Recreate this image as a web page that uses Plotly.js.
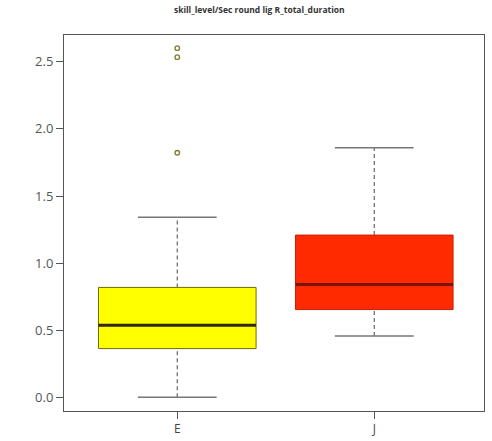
<!DOCTYPE html>
<html>
<head>
<meta charset="utf-8">
<script src="https://cdn.plot.ly/plotly-3.0.1.min.js"></script>
<style>
  html, body { margin: 0; padding: 0; background: #fff; }
  #chart { width: 492px; height: 441px; }
</style>
</head>
<body>
<div id="chart"></div>
<script>
// Box-plot summary of R_total_duration per skill level
const categories    = ['E', 'J'];
const lowerWhisker  = [0.000, 0.457];
const q1            = [0.363, 0.654];
const median        = [0.537, 0.841];
const q3            = [0.819, 1.209];
const upperWhisker  = [1.341, 1.860];
const outliersE     = [2.602, 2.535, 1.823];
const outliersJ     = [];
const tickValues    = [0, 0.5, 1, 1.5, 2, 2.5];
const tickLabels    = ['0.0', '0.5', '1.0', '1.5', '2.0', '2.5'];

const fills        = ['#ffff00', '#ff2a00'];
const borders      = ['#6e6a10', '#c82000'];
const medianColors = ['#2e2a0a', '#7a1505'];
const halfBox = 0.4;
const halfCap = 0.2;

const traces = [];
categories.forEach((cat, i) => {
  const c = i + 1;
  // box body
  traces.push({
    type: 'scatter', mode: 'lines', hoverinfo: 'skip', showlegend: false,
    x: [c - halfBox, c + halfBox, c + halfBox, c - halfBox, c - halfBox],
    y: [q1[i], q1[i], q3[i], q3[i], q1[i]],
    fill: 'toself', fillcolor: fills[i],
    line: { color: borders[i], width: 1 }
  });
  // dashed whiskers
  traces.push({
    type: 'scatter', mode: 'lines', hoverinfo: 'skip', showlegend: false,
    x: [c, c, null, c, c],
    y: [lowerWhisker[i], q1[i], null, q3[i], upperWhisker[i]],
    line: { color: '#666', width: 1.2, dash: '4px,3px' }
  });
  // whisker caps
  traces.push({
    type: 'scatter', mode: 'lines', hoverinfo: 'skip', showlegend: false,
    x: [c - halfCap, c + halfCap, null, c - halfCap, c + halfCap],
    y: [lowerWhisker[i], lowerWhisker[i], null, upperWhisker[i], upperWhisker[i]],
    line: { color: '#777', width: 1.5 }
  });
  // median
  traces.push({
    type: 'scatter', mode: 'lines', hoverinfo: 'skip', showlegend: false,
    x: [c - halfBox, c + halfBox],
    y: [median[i], median[i]],
    line: { color: medianColors[i], width: 3 }
  });
});

[outliersE, outliersJ].forEach((vals, i) => {
  if (!vals.length) return;
  traces.push({
    type: 'scatter', mode: 'markers', hoverinfo: 'skip', showlegend: false,
    x: vals.map(() => i + 1),
    y: vals,
    marker: { symbol: 'circle-open', size: 4.5, color: '#858030', line: { width: 1.4, color: '#858030' } }
  });
});

const layout = {
  width: 492, height: 441,
  margin: { l: 64, r: 8, t: 35, b: 30 },
  paper_bgcolor: '#fff', plot_bgcolor: '#fff',
  font: { family: 'Open Sans, sans-serif', color: '#444', size: 12 },
  title: {
    text: '<b>skill_level/Sec round lig R_total_duration</b>',
    font: { family: 'Open Sans, sans-serif', size: 8.5, color: '#333' },
    xref: 'paper', x: 0.465, xanchor: 'center',
    yref: 'container', y: 0.977, yanchor: 'middle'
  },
  xaxis: {
    range: [0.425, 2.557],
    tickvals: [1, 2], ticktext: categories,
    ticks: 'outside', ticklen: 7, tickcolor: '#555', tickwidth: 1,
    showgrid: false, zeroline: false,
    showline: true, linecolor: '#555', linewidth: 1, mirror: true,
    tickfont: { size: 12, color: '#444' }, fixedrange: true
  },
  yaxis: {
    range: [-0.102, 2.70],
    tickvals: tickValues, ticktext: tickLabels,
    ticks: 'outside', ticklen: 7, tickcolor: '#555', tickwidth: 1,
    showgrid: false, zeroline: false,
    showline: true, linecolor: '#555', linewidth: 1, mirror: true,
    tickfont: { size: 13, color: '#555' }, fixedrange: true
  }
};

Plotly.newPlot('chart', traces, layout, { staticPlot: true, displayModeBar: false });
</script>
</body>
</html>
